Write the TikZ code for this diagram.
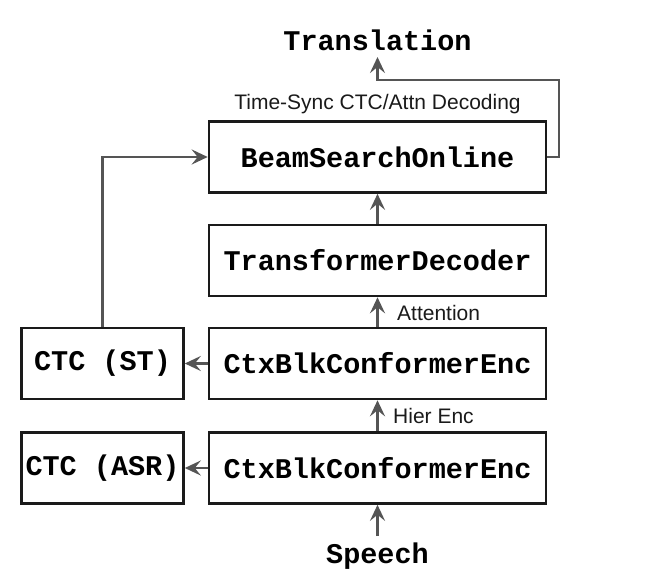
\documentclass[tikz,border=0pt]{standalone}
\usepackage{fontspec}
\setmainfont{Liberation Sans}
\newfontfamily\boxfont{Liberation Mono}
\usetikzlibrary{arrows.meta}
\definecolor{linegray}{HTML}{555555}
\definecolor{boxline}{HTML}{1A1A1A}
\begin{document}
\begin{tikzpicture}[x=1pt,y=-1pt,
  blk/.style={draw=boxline,line width=2.6pt,fill=white,minimum height=71pt,inner sep=0pt,
    font=\boxfont\bfseries\fontsize{28.5}{30}\selectfont},
  wide/.style={blk,minimum width=337pt},
  small/.style={blk,minimum width=162pt},
  io/.style={font=\boxfont\bfseries\fontsize{28.5}{30}\selectfont,inner sep=0pt},
  lbl/.style={font=\fontsize{21}{24}\selectfont,text=boxline,inner sep=0pt},
  conn/.style={draw=linegray,line width=2.5pt,-{Stealth[length=16pt,width=15pt,inset=6pt]}}
]
\useasboundingbox (0,0) rectangle (671,586);
\node[wide] (bso) at (377.5,157) {BeamSearchOnline};
\node[wide] (td) at (377.5,260.5) {TransformerDecoder};
\node[wide] (encu) at (377.5,363.5) {CtxBlkConformerEnc};
\node[wide] (encl) at (377.5,468) {CtxBlkConformerEnc};
\node[small] (ctcst) at (102.5,363.5) {CTC (ST)};
\node[small] (ctcasr) at (102.5,468) {CTC (ASR)};
\node[io] (trans) at (377.5,40) {Translation};
\node[io] (speech) at (377.5,556) {Speech};
\node[lbl] (tsync) at (377.5,104) {Time-Sync CTC/Attn Decoding};
\node[lbl,anchor=west] (attn) at (397,313) {Attention};
\node[lbl,anchor=west] (hier) at (393,416) {Hier Enc};
\coordinate (sin) at (377.5,536);
\coordinate (tout) at (377.5,57);
\draw[conn] (sin) -- (encl.south);
\draw[conn] (encl.north) -- (encu.south);
\draw[conn] (encu.north) -- (td.south);
\draw[conn] (td.north) -- (bso.south);
\draw[conn] (encu.west) -- (ctcst.east);
\draw[conn] (encl.west) -- (ctcasr.east);
\draw[conn] (ctcst.north) |- (bso.west);
\draw[conn] (bso.east) -- (559,157) |- (377.5,80) -- (tout);
\end{tikzpicture}
\end{document}
